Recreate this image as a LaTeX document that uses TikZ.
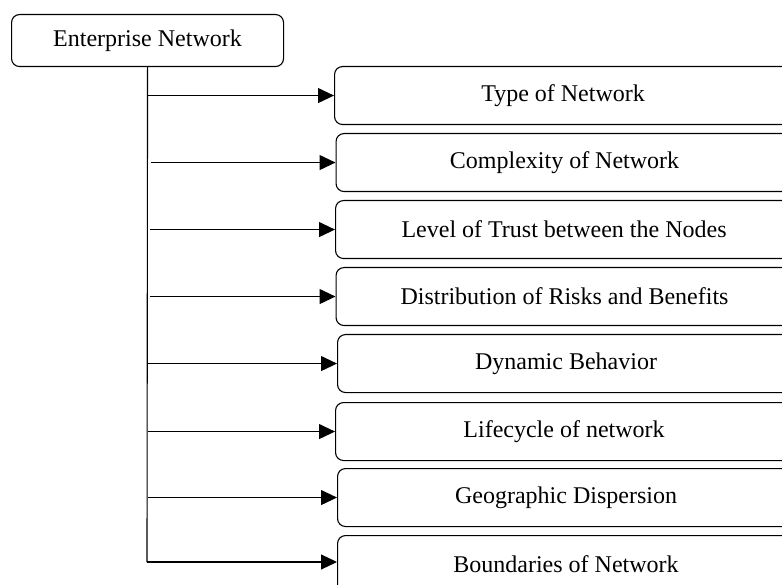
\documentclass[tikz,border=0pt]{standalone}
\usepackage{fontspec}
\setmainfont{Liberation Serif}
\usetikzlibrary{arrows.meta}
\begin{document}
\begin{tikzpicture}[x=1pt,y=-1pt,
  every node/.style={font=\fontsize{24}{28}\selectfont},
  rootbox/.style={draw, line width=1.1pt, rounded corners=8pt, inner sep=0pt,
    minimum width=272pt, minimum height=52pt, anchor=north west},
  itembox/.style={draw, line width=1.1pt, rounded corners=8pt, inner sep=0pt,
    minimum width=457pt, minimum height=58pt, anchor=north west},
  link/.style={line width=1.1pt, -{Triangle[length=16pt,width=15pt]}},
  trunkline/.style={line width=1.1pt}]
\useasboundingbox (0,0) rectangle (782,585);
\clip (0,0) rectangle (782,585);

% root
\node[rootbox] (ent) at (11,14) {Enterprise Network};

% branches
\node[itembox] (b1) at (334,66)   {Type of Network};
\node[itembox] (b2) at (335.5,133) {Complexity of Network};
\node[itembox] (b3) at (335,200)  {Level of Trust between the Nodes};
\node[itembox] (b4) at (335.5,267) {Distribution of Risks and Benefits};
\node[itembox] (b5) at (337,334)  {Dynamic Behavior};
\node[itembox] (b6) at (335,402)  {Lifecycle of network};
\node[itembox] (b7) at (337,468)  {Geographic Dispersion};
\node[itembox] (b8) at (337,535)  {Boundaries of Network};

% trunk
\coordinate (trunk) at (ent.south);
\coordinate (trunkend) at (147,562);
\draw[trunkline] (trunk) -- (trunkend);

% connectors
\draw[link] (b1.west -| trunk) -- (b1.west);
\draw[link] ([xshift=3pt]b2.west -| trunk) -- (b2.west);
\draw[link] ([xshift=2pt]b3.west -| trunk) -- (b3.west);
\draw[link] ([xshift=2pt]b4.west -| trunk) -- (b4.west);
\draw[link] (b5.west -| trunk) -- (b5.west);
\draw[link] (b6.west -| trunk) -- (b6.west);
\draw[link] (b7.west -| trunk) -- (b7.west);
\draw[link] (trunkend) -- (trunkend -| b8.west);
\end{tikzpicture}
\end{document}
